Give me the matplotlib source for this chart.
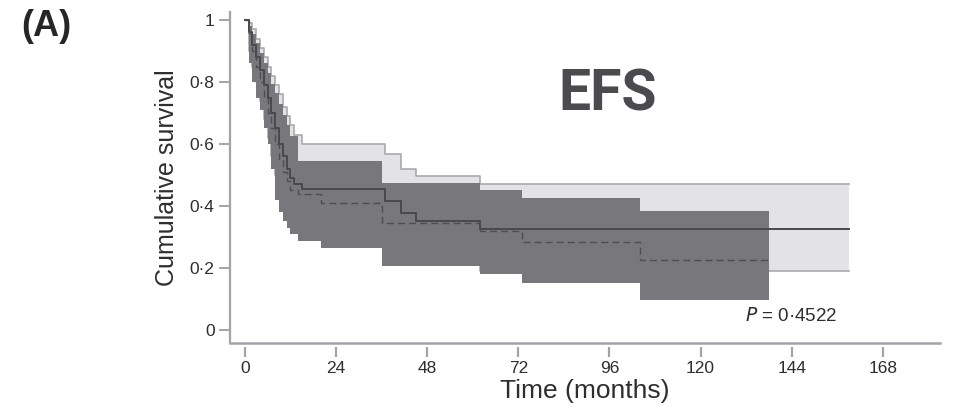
#
# Kaplan-Meier style EFS plot, two groups with confidence bands
#
import numpy as np
import matplotlib.pyplot as plt

plt.rcParams['font.family'] = ['Liberation Sans', 'DejaVu Sans']

# Group 1 (solid line, light band)
t1 = [0, 1, 2, 3, 4, 5, 6, 7, 8, 9, 10, 11, 12, 13, 15, 37, 41, 45, 62, 159]
s1 = [1.0, 0.96, 0.92, 0.88, 0.84, 0.79, 0.75, 0.70, 0.65, 0.60, 0.56, 0.52,
      0.49, 0.47, 0.455, 0.415, 0.378, 0.35, 0.325, 0.325]
up1 = [1.0, 0.99, 0.97, 0.94, 0.91, 0.88, 0.85, 0.82, 0.79, 0.76, 0.72, 0.69,
       0.66, 0.63, 0.60, 0.568, 0.52, 0.497, 0.47, 0.47]
lo1 = [1.0, 0.90, 0.85, 0.80, 0.74, 0.68, 0.62, 0.56, 0.50, 0.45, 0.41, 0.38,
       0.35, 0.33, 0.32, 0.28, 0.25, 0.23, 0.19, 0.19]

# Group 2 (dashed line, dark band)
t2 = [0, 1, 2, 3, 4, 5, 6, 7, 8, 9, 10, 11, 12, 14, 20, 36, 62, 73, 104, 138]
s2 = [1.0, 0.95, 0.90, 0.85, 0.80, 0.75, 0.70, 0.65, 0.60, 0.55, 0.51, 0.48,
      0.45, 0.44, 0.41, 0.344, 0.32, 0.284, 0.225, 0.225]
up2 = [1.0, 0.98, 0.955, 0.925, 0.895, 0.86, 0.83, 0.795, 0.765, 0.73, 0.695,
       0.66, 0.625, 0.545, 0.545, 0.474, 0.452, 0.425, 0.385, 0.385]
lo2 = [1.0, 0.86, 0.80, 0.75, 0.71, 0.65, 0.60, 0.52, 0.42, 0.38, 0.35, 0.33,
       0.31, 0.286, 0.263, 0.205, 0.18, 0.152, 0.097, 0.097]

xTicks = [0, 24, 48, 72, 96, 120, 144, 168]
yTicks = [0, 0.2, 0.4, 0.6, 0.8, 1.0]
yTickLabels = ['0', '0·2', '0·4', '0·6', '0·8', '1']

axCol = '#a3a3aa'
txtCol = '#2e2e2e'

fig = plt.figure(figsize=[9.6, 4.07], dpi=100, facecolor='w')
ax = fig.add_axes([0.2396, 0.1575, 0.7394, 0.8130])

# light band + its edges
ax.fill_between(t1, lo1, up1, step='post', color='#e3e3e5', lw=0, zorder=1)
ax.step(t1, up1, where='post', color='#aaaaae', lw=1.2, zorder=1.5)
ax.step(t1, lo1, where='post', color='#aaaaae', lw=1.2, zorder=1.5)
# dark band on top
ax.fill_between(t2, lo2, up2, step='post', color='#77777c', lw=0, zorder=2)
# survival curves
ax.step(t1, s1, where='post', color='#48484d', lw=1.4, zorder=3)
ax.step(t2, s2, where='post', color='#4e4e52', lw=1.0, ls=(0, (5, 3)), zorder=3)

ax.set_xlim(-3.9, 183)
ax.set_ylim(-0.042, 1.026)
ax.set_xticks(xTicks)
ax.set_yticks(yTicks)
ax.set_yticklabels(yTickLabels)

# axes styling
for side in ['top', 'right']:
    ax.spines[side].set_visible(False)
ax.spines['left'].set_color(axCol)
ax.spines['left'].set_linewidth(1.6)
ax.spines['bottom'].set_position(('outward', 3))
ax.spines['bottom'].set_color('none')
ax.axhline(-0.042, color=axCol, lw=1.8, clip_on=False, zorder=5)
ax.tick_params(axis='x', colors=axCol, width=1.6, length=7, labelsize=12.5,
               labelcolor=txtCol, pad=3)
ax.tick_params(axis='y', colors=axCol, width=1.4, length=8, labelsize=12.5,
               labelcolor=txtCol, pad=3)

ax.set_xlabel('Time (months)', fontsize=19, color=txtCol, labelpad=2)
ax.set_ylabel('Cumulative survival', fontsize=18, color=txtCol, labelpad=8)

ax.text(0.725, 0.08, r'$\it{P}$ = 0·4522', transform=ax.transAxes,
        fontsize=13.5, color=txtCol, va='center')
fig.text(0.633, 0.767, 'EFS', fontsize=41, fontweight='bold', color='#4a4a4f',
         family='Roboto', ha='center', va='center')
fig.text(0.022, 0.935, '(A)', fontsize=26, fontweight='bold', color='#262626',
         va='center')

plt.savefig('out.png', dpi=100, facecolor='w')
